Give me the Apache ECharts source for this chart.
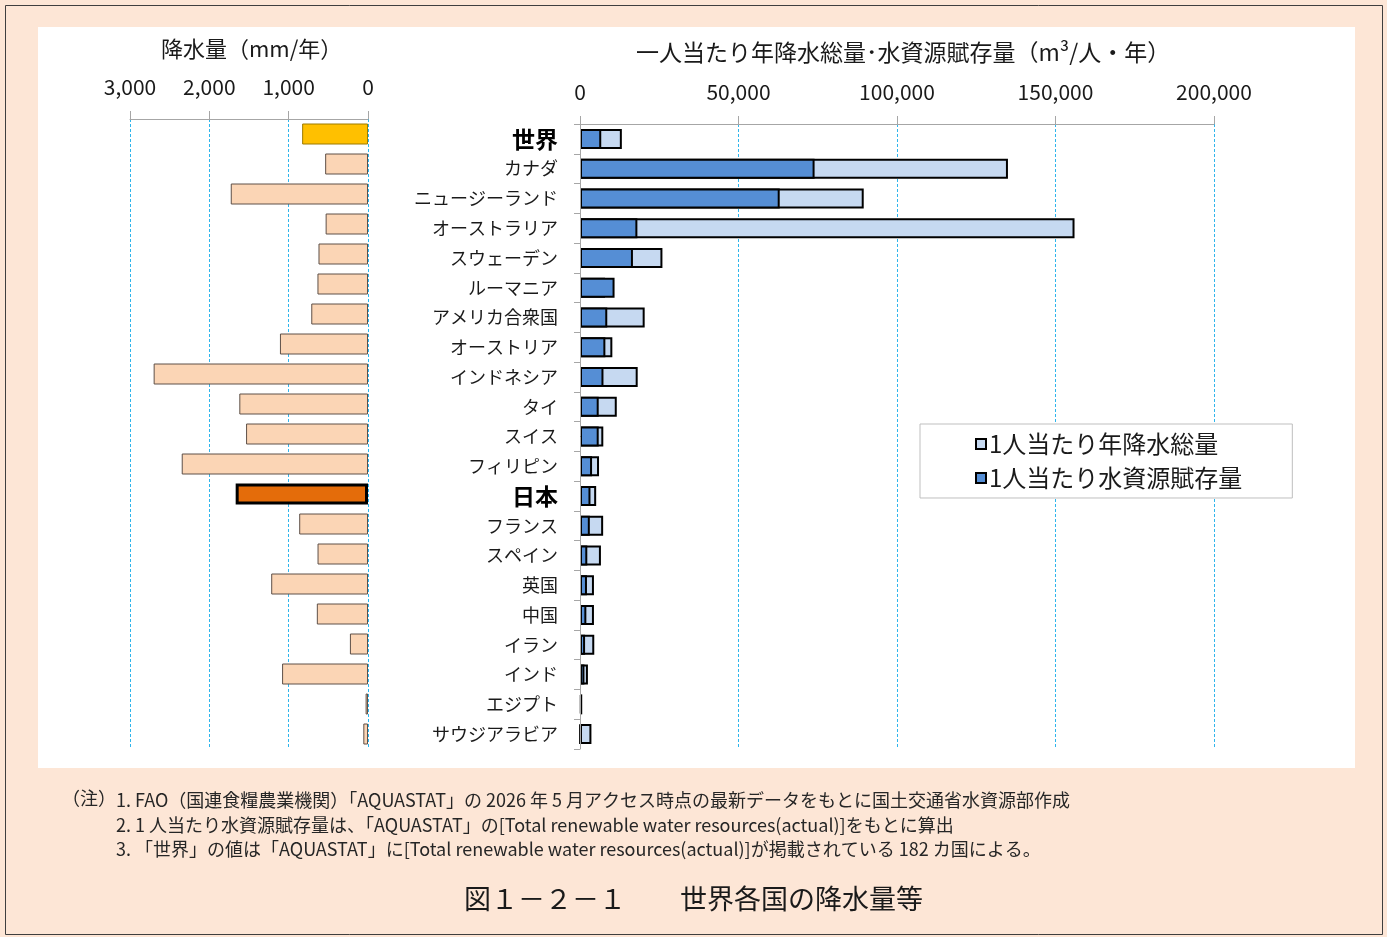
<!DOCTYPE html>
<html>
<head>
<meta charset="utf-8">
<title>世界各国の降水量等</title>
<script src="https://cdn.jsdelivr.net/npm/echarts@6/dist/echarts.min.js"></script>
<style>
  html, body { margin: 0; padding: 0; background: #fde6d6; }
  #chart { width: 1387px; height: 937px; }
</style>
</head>
<body>
<div id="chart"></div>
<script>
// 国名（上から順）
var countries = ['世界', 'カナダ', 'ニュージーランド', 'オーストラリア', 'スウェーデン', 'ルーマニア',
  'アメリカ合衆国', 'オーストリア', 'インドネシア', 'タイ', 'スイス', 'フィリピン', '日本',
  'フランス', 'スペイン', '英国', '中国', 'イラン', 'インド', 'エジプト', 'サウジアラビア'];
// 降水量 (mm/年)
var precipMm = [830, 540, 1730, 534, 624, 637, 715, 1110, 2702, 1622, 1537, 2348, 1668,
  867, 636, 1220, 645, 228, 1083, 30, 59];
// 1人当たり年降水総量 (m3/人・年)
var precipPerCap = [13200, 135000, 89500, 156000, 26000, 7900, 20400, 10200, 18200, 11600, 7350,
  6000, 5100, 7300, 6600, 4400, 4400, 4500, 2500, 480, 3600];
// 1人当たり水資源賦存量 (m3/人・年)
var resourcePerCap = [6700, 74000, 63000, 18100, 16700, 10900, 8600, 8000, 7400, 5900, 5900,
  3800, 3300, 3100, 2300, 2200, 2000, 1600, 1400, 700, 70];
var leftTicks = [0, 1000, 2000, 3000];
var rightTicks = [0, 50000, 100000, 150000, 200000];

var FONT = '"Noto Sans CJK JP", "Noto Sans", sans-serif';
var GRID_BLUE = '#2fb5ec';
var AXIS_GREY = '#a6a6a6';

var mmData = precipMm.map(function (v, i) {
  var item = { value: v };
  if (countries[i] === '世界') {
    item.itemStyle = { color: '#ffc000', borderColor: '#9c7a00', borderWidth: 1 };
  } else if (countries[i] === '日本') {
    item.itemStyle = { color: '#e46c0a', borderColor: '#000', borderWidth: 3 };
  }
  return item;
});

var chart = echarts.init(document.getElementById('chart'));

var option = {
  backgroundColor: '#fde6d6',
  animation: false,
  textStyle: { fontFamily: FONT },
  graphic: [
    { type: 'rect', z: -10, shape: { x: 5.5, y: 5.5, width: 1377, height: 929 },
      style: { fill: '#fde6d6', stroke: '#3f3f3f', lineWidth: 1 } },
    { type: 'rect', z: -9, shape: { x: 38, y: 27, width: 1317, height: 741 },
      style: { fill: '#ffffff' } },
    { type: 'text', left: 161, top: 38, z: 100,
      style: { text: '降水量（mm/年）', font: '22px ' + FONT, fill: '#1a1a1a' } },
    { type: 'text', left: 636, top: 41, z: 100,
      style: { text: '一人当たり年降水総量･水資源賦存量（m³/人・年）', font: '23px ' + FONT, fill: '#1a1a1a' } },
    { type: 'text', left: 62, top: 789, z: 100,
      style: { text: '（注）', font: '18px ' + FONT, fill: '#262626' } },
    { type: 'text', left: 116, top: 788, z: 100,
      style: {
        text: '1. FAO（国連食糧農業機関）「AQUASTAT」の 2026 年 5 月アクセス時点の最新データをもとに国土交通省水資源部作成\n' +
          '2. 1 人当たり水資源賦存量は、「AQUASTAT」の[Total renewable water resources(actual)]をもとに算出\n' +
          '3. 「世界」の値は「AQUASTAT」に[Total renewable water resources(actual)]が掲載されている 182 カ国による。',
        font: '18px ' + FONT, fill: '#262626', lineHeight: 24.5
      } },
    { type: 'text', left: 'center', top: 885, z: 100,
      style: { text: '図１－２－１　　世界各国の降水量等', font: '27px ' + FONT, fill: '#1a1a1a' } }
  ],
  legend: {
    orient: 'vertical',
    left: 920,
    top: 424,
    data: ['1人当たり年降水総量', '1人当たり水資源賦存量'],
    backgroundColor: '#ffffff',
    borderColor: '#bfbfbf',
    borderWidth: 1,
    padding: [8, 50, 8, 55],
    itemGap: 10,
    itemWidth: 10,
    itemHeight: 10,
    icon: 'rect',
    textStyle: { fontSize: 24, color: '#1a1a1a', fontFamily: FONT, padding: [0, 0, 0, -2] }
  },
  grid: [
    { left: 130, top: 119, width: 238, height: 630 },
    { left: 580, top: 124, width: 634, height: 625 }
  ],
  xAxis: [
    {
      gridIndex: 0, type: 'value', inverse: true, position: 'top',
      min: leftTicks[0], max: leftTicks[leftTicks.length - 1], interval: 1000,
      axisLine: { show: true, lineStyle: { color: AXIS_GREY } },
      axisTick: { show: true, length: 8, lineStyle: { color: AXIS_GREY } },
      axisLabel: { fontSize: 21, color: '#1a1a1a', margin: 21 },
      splitLine: { show: true, lineStyle: { color: GRID_BLUE, type: [3, 2], width: 1 } }
    },
    {
      gridIndex: 1, type: 'value', position: 'top',
      min: rightTicks[0], max: rightTicks[rightTicks.length - 1], interval: 50000,
      axisLine: { show: true, lineStyle: { color: AXIS_GREY } },
      axisTick: { show: true, length: 8, lineStyle: { color: AXIS_GREY } },
      axisLabel: { fontSize: 21, color: '#1a1a1a', margin: 21 },
      splitLine: { show: true, lineStyle: { color: GRID_BLUE, type: [3, 2], width: 1 } }
    }
  ],
  yAxis: [
    {
      gridIndex: 0, type: 'category', inverse: true, data: countries,
      axisLine: { show: false }, axisTick: { show: false }, axisLabel: { show: false }
    },
    {
      gridIndex: 1, type: 'category', inverse: true, data: countries,
      axisLine: { show: true, lineStyle: { color: AXIS_GREY } },
      axisTick: { show: true, length: 6, lineStyle: { color: AXIS_GREY } },
      axisLabel: {
        margin: 22,
        formatter: function (v) {
          return (v === '世界' || v === '日本') ? '{b|' + v + '}' : '{n|' + v + '}';
        },
        rich: {
          n: { fontSize: 18, color: '#1a1a1a', fontFamily: FONT },
          b: { fontSize: 23, fontWeight: 'bold', color: '#000', fontFamily: FONT }
        }
      },
      z: 5
    }
  ],
  series: [
    {
      name: '降水量',
      type: 'bar',
      xAxisIndex: 0, yAxisIndex: 0,
      data: mmData,
      barWidth: 21,
      itemStyle: { color: '#fbd5b5', borderColor: '#5e5048', borderWidth: 1 }
    },
    {
      name: '1人当たり年降水総量',
      type: 'bar',
      xAxisIndex: 1, yAxisIndex: 1,
      data: precipPerCap,
      barWidth: 20,
      barGap: '-100%',
      itemStyle: { color: '#c6d9f1', borderColor: '#000', borderWidth: 2 }
    },
    {
      name: '1人当たり水資源賦存量',
      type: 'bar',
      xAxisIndex: 1, yAxisIndex: 1,
      data: resourcePerCap,
      barWidth: 20,
      barGap: '-100%',
      itemStyle: { color: '#558ed5', borderColor: '#000', borderWidth: 2 }
    }
  ]
};

chart.setOption(option);
</script>
</body>
</html>
